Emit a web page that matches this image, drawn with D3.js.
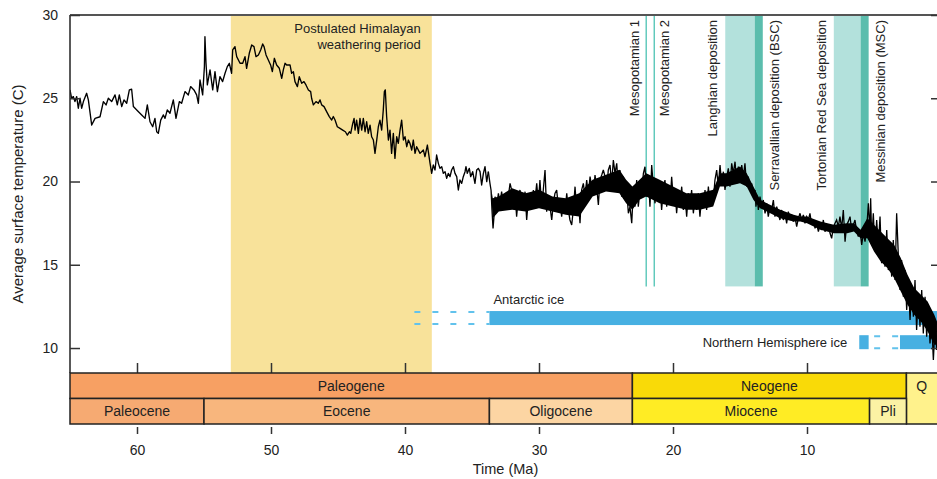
<!DOCTYPE html>
<html>
<head>
<meta charset="utf-8">
<script src="https://cdn.jsdelivr.net/npm/d3@7"></script>
<style>
  body { margin: 0; background: #fff; }
  svg { display: block; font-family: "Liberation Sans", Arial, Helvetica, sans-serif; }
</style>
</head>
<body>
<svg id="chart" width="937" height="479"></svg>
<script>
// ---------------------------------------------------------------
// Cenozoic average surface temperature, [age Ma, temperature C]
// ---------------------------------------------------------------
const tempPaleocene = [
  [65.00,25.50],[64.88,25.00],[64.75,25.10],[64.63,24.80],[64.50,25.10],[64.38,24.40],[64.25,25.00],
  [64.13,24.40],[64.00,24.80],[63.76,25.30],[63.63,24.90],[63.38,23.39],[63.13,23.79],[62.76,23.89],
  [62.51,24.80],[62.31,24.60],[62.14,25.00],[61.89,24.80],[61.64,25.20],[61.47,24.60],[61.32,25.20],
  [61.14,24.50],[60.97,24.90],[60.77,24.70],[60.57,25.50],[60.40,25.54],[60.27,24.50],[60.02,24.30],
  [59.65,24.00],[59.40,23.79],[59.23,24.60],[59.03,23.59],[58.83,23.29],[58.66,23.79],[58.53,22.99],
  [58.41,22.89],[58.23,23.69],[58.03,24.00],[57.91,23.79],[57.74,24.30],[57.54,24.10],[57.29,24.90],
  [57.09,23.79],[56.84,24.80],[56.67,24.70],[56.42,25.40],[56.17,25.20],[56.00,25.70],[55.75,25.50],
  [55.55,25.20],[55.42,24.70],[55.30,26.10],[55.10,25.20]
];
const tempEocene = [
  [54.97,26.90],[54.93,28.70],[54.85,27.10],[54.75,25.80],[54.55,26.70],[54.35,25.50],[54.18,26.60],
  [54.00,25.40],[53.81,26.30],[53.61,26.00],[53.43,26.50],[53.26,26.90],[53.11,27.10],[52.94,26.50],
  [52.86,27.90],[52.69,28.10],[52.56,27.50],[52.31,27.10],[52.11,27.10],[51.94,27.50],[51.82,26.80],
  [51.62,27.70],[51.44,28.20],[51.27,28.10],[51.12,27.50],[50.94,27.60],[50.77,27.90],[50.62,28.26],
  [50.52,28.10],[50.37,27.60],[50.20,27.30],[50.03,27.00],[49.90,26.60],[49.75,27.40],[49.58,27.00],
  [49.38,26.80],[49.20,26.20],[49.08,26.70],[48.95,27.10],[48.83,27.00],[48.58,27.00],[48.46,26.50],
  [48.33,26.60],[48.21,26.00],[48.03,25.70],[47.89,26.30],[47.71,25.90],[47.54,26.00],[47.39,25.80],
  [47.21,25.50],[47.04,25.40],[46.97,25.00],[46.84,24.60],[46.64,24.80],[46.47,24.70],[46.34,24.90],
  [46.22,24.60],[46.04,24.50],[45.85,24.20],[45.65,23.90],[45.47,23.69],[45.35,23.90],[45.22,23.69],
  [45.05,23.29],[44.85,23.19],[44.65,23.09],[44.45,22.99],[44.30,22.79],[44.15,22.99],[44.05,22.89],
  [43.90,23.49],[43.80,23.79],[43.73,23.09],[43.61,23.69],[43.48,22.89],[43.36,23.79],[43.23,23.09],
  [43.11,23.79],[42.98,22.99],[42.86,23.59],[42.74,22.89],[42.61,23.39],[42.49,22.69],[42.36,22.49],
  [42.24,21.69],[42.11,22.49],[41.99,23.29],[41.87,23.69],[41.74,23.09],[41.62,24.30],[41.54,25.40],
  [41.47,25.50],[41.37,23.90],[41.24,22.49],[41.12,23.09],[41.00,21.69],[40.87,22.89],[40.75,21.39],
  [40.62,22.69],[40.50,22.29],[40.37,23.09],[40.25,23.69],[40.12,22.49],[40.00,22.69],[39.87,22.09],
  [39.75,22.49],[39.63,22.29],[39.50,21.89],[39.38,22.49],[39.25,21.69],[39.13,22.09],[38.88,21.69],
  [38.63,21.89],[38.51,21.49],[38.33,22.19],[38.13,21.09],[38.01,20.49],[37.89,20.99],[37.76,20.69],
  [37.64,21.59],[37.51,21.09],[37.39,20.79],[37.26,20.89],[37.14,20.49],[37.01,20.59],[36.89,20.19],
  [36.77,20.49],[36.64,20.29],[36.52,20.69],[36.39,20.89],[36.27,20.49],[36.14,20.29],[36.02,19.49],
  [35.90,20.09],[35.77,19.89],[35.65,20.29],[35.52,20.59],[35.45,20.89],[35.35,20.49],[35.20,20.79],
  [35.10,20.29],[34.95,20.59],[34.78,19.89],[34.65,20.69],[34.53,20.79],[34.40,20.59],[34.28,19.79],
  [34.15,20.49],[34.03,20.89],[33.90,19.99],[33.78,20.59]
];
const tempOligocene = [
  [33.66,19.89],[33.58,19.49],[33.51,18.29],[33.43,17.18],[33.36,17.89],[33.28,19.09],[33.16,18.49],
  [33.03,19.29],[32.91,18.69],[32.79,19.39],[32.66,18.69],[32.54,19.19],[32.41,18.49],[32.29,19.09],
  [32.16,19.89],[32.04,19.49],[31.92,18.59],[31.79,19.29],[31.67,17.89],[31.54,19.09],[31.42,19.49],
  [31.29,18.89],[31.17,18.49],[31.04,19.39],[30.92,17.69],[30.80,18.89],[30.67,19.29],[30.55,18.49],
  [30.42,19.49],[30.30,18.89],[30.17,19.89],[30.05,18.69],[29.93,20.09],[29.80,18.49],[29.68,19.49],
  [29.55,20.69],[29.43,18.19],[29.30,19.09],[29.18,18.49],[29.05,17.69],[28.93,18.69],[28.81,19.29],
  [28.68,19.49],[28.56,18.49],[28.43,18.89],[28.31,17.89],[28.18,18.69],[28.06,18.19],[27.93,19.29],
  [27.81,18.29],[27.69,17.69],[27.56,17.39],[27.44,18.29],[27.31,19.69],[27.19,18.29],[27.06,18.89],
  [26.94,17.49],[26.82,19.49],[26.69,19.89],[26.57,19.09],[26.44,20.09],[26.32,19.19],[26.19,20.29],
  [26.07,19.69],[25.94,19.29],[25.82,20.39],[25.70,19.69],[25.57,18.59],[25.45,20.09],[25.32,20.39],
  [25.20,20.69],[25.07,20.29],[24.95,19.49],[24.83,20.69],[24.70,20.99],[24.58,19.89],[24.45,21.29],
  [24.33,20.49],[24.20,21.09],[24.08,19.69],[23.96,20.69],[23.83,19.09],[23.71,20.29],[23.58,19.69],
  [23.46,19.49],[23.33,18.09],[23.21,18.49],[23.08,17.49]
];
const tempMiocene = [
  [22.96,19.49],[22.84,18.49],[22.71,20.09],[22.59,18.49],[22.46,19.49],[22.34,19.29],[22.21,20.49],
  [22.09,20.89],[21.97,19.09],[21.84,20.29],[21.72,18.49],[21.59,20.99],[21.47,19.69],[21.34,18.69],
  [21.22,20.09],[21.09,19.09],[20.97,19.89],[20.85,18.29],[20.72,19.49],[20.60,20.09],[20.47,18.49],
  [20.35,19.69],[20.22,18.69],[20.10,20.29],[19.97,18.89],[19.85,19.49],[19.73,18.09],[19.60,19.29],
  [19.48,18.69],[19.35,19.69],[19.23,18.29],[19.10,19.09],[18.98,17.89],[18.86,19.29],[18.73,18.49],
  [18.61,19.49],[18.48,18.09],[18.36,19.09],[18.23,18.29],[18.11,19.29],[17.99,17.89],[17.86,19.09],
  [17.74,18.49],[17.61,19.49],[17.49,18.29],[17.36,19.69],[17.24,18.49],[17.11,19.29],[16.99,18.89],
  [16.87,20.09],[16.74,20.69],[16.62,19.69],[16.49,20.99],[16.37,19.89],[16.24,20.59],[16.12,19.49],
  [15.99,20.29],[15.87,20.79],[15.75,19.69],[15.62,21.09],[15.50,20.49],[15.37,21.19],[15.25,19.89],
  [15.12,20.89],[15.00,20.09],[14.87,20.99],[14.75,20.29],[14.63,21.09],[14.50,19.69],[14.38,20.29],
  [14.25,19.49],[14.13,19.89],[14.00,19.09],[13.88,19.49],[13.81,18.49],[13.71,19.09],[13.63,18.29],
  [13.51,19.09],[13.38,18.49],[13.26,18.89],[13.13,18.09],[13.01,18.69],[12.89,17.89],[12.76,18.49],
  [12.64,18.29],[12.51,18.89],[12.39,17.89],[12.26,18.49],[12.14,18.09],[12.02,17.69],[11.89,18.29],
  [11.77,17.69],[11.64,18.09],[11.52,17.49],[11.39,18.19],[11.27,17.69],[11.14,17.99],[11.02,17.59],
  [10.90,17.89],[10.77,17.29],[10.65,17.79],[10.52,18.09],[10.40,17.69],[10.27,17.99],[10.15,17.49],
  [10.02,17.89],[9.90,17.69],[9.78,18.09],[9.65,17.39],[9.53,17.69],[9.40,17.19],[9.28,17.49],
  [9.15,16.99],[9.03,17.39],[8.91,17.09],[8.78,17.69],[8.66,16.99],[8.53,17.19],[8.41,17.39],
  [8.28,16.89],[8.16,16.59],[8.03,17.29],[7.91,17.49],[7.79,17.69],[7.66,17.29],[7.54,17.89],
  [7.41,17.19],[7.29,18.29],[7.16,16.39],[7.04,17.39],[6.92,17.59],[6.79,17.89],[6.67,17.09],
  [6.54,17.39],[6.42,17.69],[6.29,16.99],[6.17,16.69],[6.04,17.09],[5.92,16.19],[5.80,16.89],
  [5.67,16.39],[5.55,17.09],[5.42,18.69]
];
const tempPliocenePleistocene = [
  [5.30,16.89],[5.25,18.99],[5.17,16.49],[5.05,18.09],[4.93,15.89],[4.80,17.69],[4.68,16.09],
  [4.55,17.89],[4.43,15.09],[4.30,16.69],[4.18,14.88],[4.05,17.09],[3.93,14.68],[3.81,16.09],
  [3.68,14.28],[3.56,16.49],[3.43,14.08],[3.31,18.09],[3.18,15.48],[3.06,13.48],[2.94,15.28],
  [2.81,13.08],[2.69,14.68],[2.56,12.28],[2.44,14.08],[2.31,11.68],[2.19,13.68],[2.06,11.88],
  [1.94,14.08],[1.82,11.08],[1.69,13.28],[1.57,11.28],[1.44,13.48],[1.32,10.88],[1.19,13.08],
  [1.07,10.68],[0.94,12.28],[0.82,10.28],[0.70,11.68],[0.57,9.28],[0.45,11.28],[0.32,9.88]
];

// Spread of the high-resolution record (dense core of the band),
// [age Ma, lower C, upper C]
const spreadOligocene = [
  [33.55,19.0,19.5],[33.45,17.8,19.0],[33.0,18.2,19.1],[32.0,18.3,19.6],[31.0,18.2,19.3],
  [30.0,18.4,19.5],[29.0,18.2,19.1],[28.0,18.0,19.0],[27.0,17.9,19.3],[26.0,19.1,20.1],
  [25.0,19.4,20.4],[24.0,19.3,20.7],[23.5,18.7,20.1],[23.03,18.3,19.7]
];
const spreadNeogene = [
  [23.03,18.3,19.7],[22.5,18.9,20.1],[22.0,19.1,20.5],[21.0,18.7,20.1],[20.0,18.5,19.7],
  [19.0,18.3,19.3],[18.0,18.3,19.3],[17.0,18.5,19.5],[16.5,19.7,20.5],[16.0,19.7,20.5],
  [15.0,19.9,20.9],[14.5,19.7,20.5],[14.0,18.9,19.7],[13.5,18.4,18.9],[13.0,18.2,18.7],
  [12.0,17.8,18.3],[11.0,17.6,18.0],[10.5,17.6,17.9],[10.0,17.5,17.9],[9.0,17.1,17.6],
  [8.0,16.9,17.4],[7.0,16.9,17.5],[6.5,17.0,17.5],[6.0,16.6,17.1],[5.5,16.6,17.8],
  [5.0,15.8,17.4],[4.5,15.2,17.0],[4.0,14.8,16.6],[3.5,14.2,16.2],[3.0,13.4,15.4],
  [2.5,12.6,14.4],[2.0,12.0,13.6],[1.5,11.6,13.2],[1.0,11.0,12.8],[0.5,10.2,12.0],[0.3,10.2,11.6]
];

// Geologic time scale (Ma)
const periodNames  = ["Paleogene", "Neogene", "Q"];
const periodBounds = [[65, 23.03], [23.03, 2.58], [2.58, 0]];
const epochNames   = ["Paleocene", "Eocene", "Oligocene", "Miocene", "Pli"];
const epochBounds  = [[65, 55], [55, 33.7], [33.7, 23.03], [23.03, 5.33], [5.33, 2.58]];

// Highlighted intervals
const himalayaPeriod = [53, 38];
const himalayaLabel  = ["Postulated Himalayan", "weathering period"];
const mesopotamianNames = ["Mesopotamian 1", "Mesopotamian 2"];
const mesopotamianAges  = [22.0, 21.4];
const depositionNames   = ["Langhian deposition", "Serravallian deposition (BSC)",
                           "Tortonian Red Sea deposition", "Messinian deposition (MSC)"];
const depositionBounds  = [[16.1, 13.9], [13.9, 13.3], [8.0, 6.0], [6.0, 5.4]];
const depositionFloorT  = 13.7;   // lower end of the deposition columns, in C

// Ice sheets: ephemeral (dashed) and permanent (solid) ranges, Ma
const antarcticIceEphemeral = [[39.3, 33.7]];
const antarcticIcePermanent = [[33.7, 0]];
const northernIceEphemeral  = [[5.4, 3.06]];
const northernIcePermanent  = [[6.1, 5.4], [3.06, 0]];
const iceRowTemps = [11.8, 10.35];  // vertical placement of the two ice rows, in C

// Axis ticks
const xTicks = [60, 50, 40, 30, 20, 10];
const yTicks = [10, 15, 20, 25, 30];

// ---------------------------------------------------------------
const svg = d3.select("#chart");
const plot = { left: 70, right: 941, top: 15, bottom: 373 };
const geo = { row1: 373, row2: 398.5, bottom: 424 };

const x = d3.scaleLinear().domain([65, 0]).range([plot.left, plot.right]);
const y = d3.scaleLinear().domain([8.5, 30]).range([plot.bottom, plot.top]);

const colors = {
  Paleogene: "#f7a063", Neogene: "#f9da08", Q: "#fff28c",
  Paleocene: "#f6aa72", Eocene: "#f8b67d", Oligocene: "#fcd5a3",
  Miocene: "#ffec24", Pli: "#fbf2a4",
  himalaya: "#f8e29a", tealLight: "#b3e1dc", tealDark: "#5bbdad", tealLine: "#4cc2b3",
  ice: "#47b0e2", iceDash: "#62c2ec", ink: "#222"
};

svg.append("defs").append("clipPath").attr("id", "plotClip")
  .append("rect")
  .attr("x", plot.left).attr("y", plot.top)
  .attr("width", plot.right - plot.left).attr("height", plot.bottom - plot.top);

const bg = svg.append("g").attr("clip-path", "url(#plotClip)");

// Himalayan weathering band
bg.append("rect")
  .attr("x", x(himalayaPeriod[0])).attr("y", plot.top)
  .attr("width", x(himalayaPeriod[1]) - x(himalayaPeriod[0]))
  .attr("height", plot.bottom - plot.top)
  .attr("fill", colors.himalaya);

svg.append("text")
  .attr("x", x(himalayaPeriod[1]) - 11).attr("y", 33)
  .attr("text-anchor", "end").attr("font-size", 13).attr("fill", colors.ink)
  .selectAll("tspan").data(himalayaLabel).join("tspan")
  .attr("x", x(himalayaPeriod[1]) - 11)
  .attr("dy", (d, i) => i === 0 ? 0 : 16)
  .text(d => d);

// Deposition columns
bg.selectAll("rect.dep").data(depositionBounds).join("rect")
  .attr("class", "dep")
  .attr("x", d => x(d[0])).attr("y", plot.top)
  .attr("width", d => x(d[1]) - x(d[0]))
  .attr("height", y(depositionFloorT) - plot.top)
  .attr("fill", (d, i) => i % 2 === 0 ? colors.tealLight : colors.tealDark);

// Mesopotamian markers
bg.selectAll("line.meso").data(mesopotamianAges).join("line")
  .attr("class", "meso")
  .attr("x1", d => x(d)).attr("x2", d => x(d))
  .attr("y1", plot.top).attr("y2", y(depositionFloorT))
  .attr("stroke", colors.tealLine).attr("stroke-width", 1.3);

// Vertical labels: first of each pair sits left of its mark, second right
function verticalLabel(text, bx) {
  svg.append("text")
    .attr("transform", `translate(${bx},20) rotate(-90)`)
    .attr("text-anchor", "end").attr("font-size", 13).attr("fill", colors.ink)
    .text(text);
}
mesopotamianNames.forEach((name, i) => {
  const a = mesopotamianAges[i];
  verticalLabel(name, i === 0 ? x(a) - 7 : x(a) + 14.5);
});
depositionNames.forEach((name, i) => {
  const b = depositionBounds[i];
  verticalLabel(name, i % 2 === 0 ? x(b[0]) - 8 : x(b[1]) + 16);
});

// Ice sheets
const barH = 14;
function iceRow(rowT, ephemeral, permanent) {
  const cy = y(rowT);
  ephemeral.forEach(r => {
    [cy - barH / 2 + 1, cy + barH / 2 - 1].forEach(ly => {
      bg.append("line")
        .attr("x1", x(r[0])).attr("x2", x(r[1]))
        .attr("y1", ly).attr("y2", ly)
        .attr("stroke", colors.iceDash).attr("stroke-width", 2)
        .attr("stroke-dasharray", "6,12")
        .attr("stroke-dashoffset", r[0] < 10 ? 12.5 : 0);
    });
  });
  bg.selectAll(null).data(permanent).join("rect")
    .attr("x", d => x(d[0])).attr("y", cy - barH / 2)
    .attr("width", d => x(d[1]) - x(d[0])).attr("height", barH)
    .attr("fill", colors.ice);
}
iceRow(iceRowTemps[0], antarcticIceEphemeral, antarcticIcePermanent);
iceRow(iceRowTemps[1], northernIceEphemeral, northernIcePermanent);

svg.append("text")
  .attr("x", x(antarcticIcePermanent[0][0]) + 4)
  .attr("y", y(iceRowTemps[0]) - barH / 2 - 7)
  .attr("font-size", 13).attr("fill", colors.ink).text("Antarctic ice");
svg.append("text")
  .attr("x", x(northernIcePermanent[0][0]) - 12)
  .attr("y", y(iceRowTemps[1]) + 5)
  .attr("text-anchor", "end").attr("font-size", 13).attr("fill", colors.ink)
  .text("Northern Hemisphere ice");

// Dense core of the high-resolution record
const spread = d3.area()
  .x(d => x(d[0])).y0(d => y(d[1])).y1(d => y(d[2]));
bg.append("path")
  .datum([].concat(spreadOligocene, spreadNeogene.slice(1)))
  .attr("d", spread)
  .attr("fill", "#000");

// Temperature curve: the older, smoother record is drawn fine; the
// high-variance record from the Oligocene on is drawn a little heavier.
const line = d3.line().x(d => x(d[0])).y(d => y(d[1]));
const olderRecord = [].concat(tempPaleocene, tempEocene);
const youngerRecord = [olderRecord[olderRecord.length - 1]]
  .concat(tempOligocene, tempMiocene, tempPliocenePleistocene);
bg.append("path")
  .datum(olderRecord)
  .attr("d", line)
  .attr("fill", "none").attr("stroke", "#000").attr("stroke-width", 1.35)
  .attr("stroke-linejoin", "round");
bg.append("path")
  .datum(youngerRecord)
  .attr("d", line)
  .attr("fill", "none").attr("stroke", "#000").attr("stroke-width", 1.3)
  .attr("stroke-linejoin", "miter").attr("stroke-miterlimit", 3);

// Frame: top rule
svg.append("line")
  .attr("x1", plot.left).attr("x2", plot.right)
  .attr("y1", plot.top).attr("y2", plot.top)
  .attr("stroke", "#555").attr("stroke-width", 2);

// Axes
function styleAxis(g) {
  g.selectAll("path.domain").attr("stroke", "#222").attr("stroke-width", 1.5);
  g.selectAll(".tick line").attr("stroke", "#333").attr("stroke-width", 1.5);
  g.selectAll(".tick text").attr("fill", "#222").attr("font-size", 14)
    .attr("font-family", "\"Liberation Sans\", Arial, sans-serif");
}
const yAxisL = svg.append("g").attr("transform", `translate(${plot.left},0)`)
  .call(d3.axisLeft(y).tickValues(yTicks).tickSize(-10).tickSizeOuter(0).tickPadding(12));
yAxisL.select("path.domain").attr("d", `M0,${plot.top}V${plot.bottom}`);
styleAxis(yAxisL);

const yAxisR = svg.append("g").attr("transform", `translate(${plot.right},0)`)
  .call(d3.axisRight(y).tickValues(yTicks).tickSize(-10).tickSizeOuter(0).tickFormat(""));
styleAxis(yAxisR);

const xAxisTop = svg.append("g").attr("transform", `translate(0,${plot.bottom})`)
  .call(d3.axisBottom(x).tickValues(xTicks).tickSize(-10).tickSizeOuter(0).tickFormat(""));
xAxisTop.select("path.domain").remove();
styleAxis(xAxisTop);

// Geologic time scale bars
const geoG = svg.append("g");
periodNames.forEach((name, i) => {
  const b = periodBounds[i];
  const full = name === "Q";
  geoG.append("rect")
    .attr("x", x(b[0])).attr("y", geo.row1)
    .attr("width", x(b[1]) - x(b[0]))
    .attr("height", (full ? geo.bottom : geo.row2) - geo.row1)
    .attr("fill", colors[name]).attr("stroke", colors.ink).attr("stroke-width", 1.5);
  geoG.append("text")
    .attr("x", (x(b[0]) + Math.min(x(b[1]), 937)) / 2)
    .attr("y", (geo.row1 + geo.row2) / 2).attr("dy", "0.36em")
    .attr("text-anchor", "middle").attr("font-size", 14).attr("fill", colors.ink)
    .text(name);
});
epochNames.forEach((name, i) => {
  const b = epochBounds[i];
  geoG.append("rect")
    .attr("x", x(b[0])).attr("y", geo.row2)
    .attr("width", x(b[1]) - x(b[0])).attr("height", geo.bottom - geo.row2)
    .attr("fill", colors[name]).attr("stroke", colors.ink).attr("stroke-width", 1.5);
  geoG.append("text")
    .attr("x", (x(b[0]) + x(b[1])) / 2)
    .attr("y", (geo.row2 + geo.bottom) / 2).attr("dy", "0.36em")
    .attr("text-anchor", "middle").attr("font-size", 14).attr("fill", colors.ink)
    .text(name);
});

const xAxisBottom = svg.append("g").attr("transform", `translate(0,${geo.bottom + 3})`)
  .call(d3.axisBottom(x).tickValues(xTicks).tickSize(7).tickSizeOuter(0).tickPadding(11).tickFormat(d3.format("d")));
xAxisBottom.select("path.domain").remove();
styleAxis(xAxisBottom);

// Axis titles
svg.append("text")
  .attr("x", (plot.left + plot.right) / 2).attr("y", 474)
  .attr("text-anchor", "middle").attr("font-size", 14.5).attr("fill", colors.ink)
  .text("Time (Ma)");
svg.append("text")
  .attr("transform", `translate(23,${(plot.top + plot.bottom) / 2}) rotate(-90)`)
  .attr("text-anchor", "middle").attr("font-size", 15).attr("fill", colors.ink)
  .text("Average surface temperature (C)");
</script>
</body>
</html>
